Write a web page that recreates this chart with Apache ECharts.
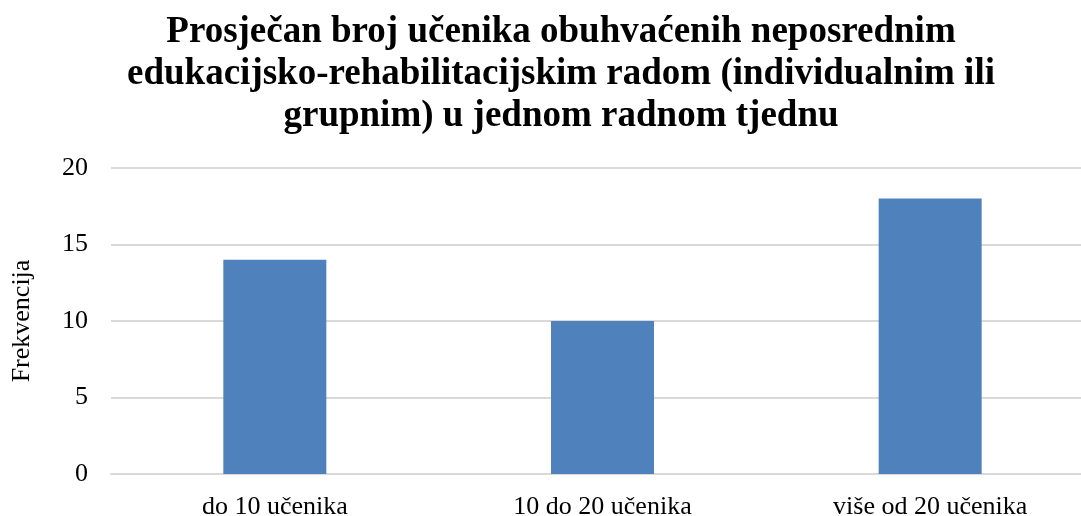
<!DOCTYPE html>
<html>
<head>
<meta charset="utf-8">
<script src="https://cdn.jsdelivr.net/npm/echarts@6/dist/echarts.min.js"></script>
<style>
  html, body { margin: 0; padding: 0; background: #fff; }
  #chart { width: 1081px; height: 516px; }
</style>
</head>
<body>
<div id="chart"></div>
<script>
  // podaci s grafa
  var categories = ['do 10 učenika', '10 do 20 učenika', 'više od 20 učenika'];
  var frekvencija = [14, 10, 18];
  var yTicks = [0, 5, 10, 15, 20];

  var font = '"Liberation Serif", "Times New Roman", serif';
  var chart = echarts.init(document.getElementById('chart'));

  chart.setOption({
    animation: false,
    title: {
      text: 'Prosječan broj učenika obuhvaćenih neposrednim\nedukacijsko-rehabilitacijskim radom (individualnim ili\ngrupnim) u jednom radnom tjednu',
      left: 556,
      top: 6,
      textAlign: 'center',
      textStyle: {
        fontFamily: font,
        fontWeight: 'bold',
        fontSize: 37,
        lineHeight: 42,
        color: '#000'
      }
    },
    grid: {
      left: 111,
      top: 168,
      width: 983,
      height: 306,
      outerBoundsMode: 'none'
    },
    xAxis: {
      type: 'category',
      data: categories,
      axisTick: {show: false},
      axisLine: {lineStyle: {color: '#d9d9d9', width: 2}},
      axisLabel: {
        fontFamily: font,
        fontSize: 26,
        color: '#000',
        margin: 20
      }
    },
    yAxis: {
      type: 'value',
      min: yTicks[0],
      max: yTicks[yTicks.length - 1],
      interval: 5,
      name: 'Frekvencija',
      nameLocation: 'middle',
      nameRotate: 90,
      nameGap: 76,
      nameTextStyle: {fontFamily: font, fontSize: 26, color: '#000'},
      axisLine: {show: false},
      axisTick: {show: false},
      axisLabel: {fontFamily: font, fontSize: 26, color: '#000', margin: 23},
      splitLine: {lineStyle: {color: '#d9d9d9', width: 2}}
    },
    series: [
      {
        type: 'bar',
        data: frekvencija,
        barWidth: 103,
        itemStyle: {color: '#4f81bd'}
      }
    ]
  });
</script>
</body>
</html>
